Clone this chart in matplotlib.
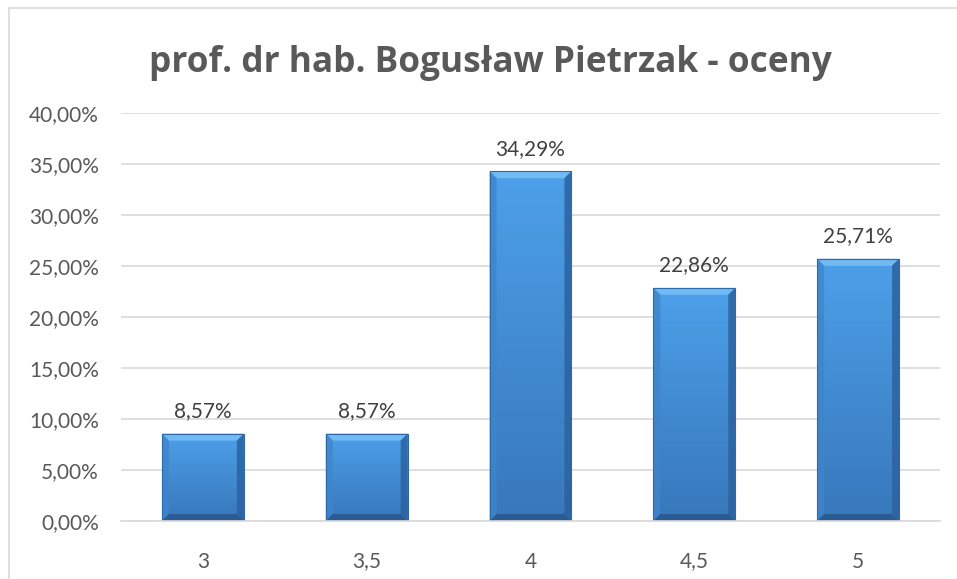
import matplotlib
matplotlib.use("Agg")
import matplotlib.pyplot as plt
import numpy as np
from matplotlib.patches import Polygon, Rectangle
from matplotlib.colors import LinearSegmentedColormap

# ---- data ----
categories = ["3", "3,5", "4", "4,5", "5"]
values = [8.57, 8.57, 34.29, 22.86, 25.71]
value_labels = ["8,57%", "8,57%", "34,29%", "22,86%", "25,71%"]
yticks = [0, 5, 10, 15, 20, 25, 30, 35, 40]
ytick_labels = ["0,00%", "5,00%", "10,00%", "15,00%", "20,00%", "25,00%",
                "30,00%", "35,00%", "40,00%"]
title = "prof. dr hab. Bogusław Pietrzak - oceny"

W, H = 957, 579
fig = plt.figure(figsize=(W / 100, H / 100), dpi=100)
fig.patch.set_facecolor("white")

# chart border (right/bottom edges fall outside the image, as in the reference)
fig.add_artist(Rectangle((9 / W, -0.05), 1.2, 1 - 8 / H + 0.05, transform=fig.transFigure,
                         fill=False, edgecolor="#D9D9D9", lw=1.2))

ax = fig.add_axes([121 / W, 1 - 521 / H, (940 - 121) / W, (521 - 113) / H])
x = np.arange(len(categories))
bars = ax.bar(x, values, width=0.5, color="#4590D8", zorder=2)
ax.set_xlim(-0.5, len(categories) - 0.5)
ax.set_ylim(0, 40)
ax.set_yticks(yticks)
ax.set_yticklabels(ytick_labels)
ax.set_xticks(x)
ax.set_xticklabels(categories)

grey = "#595959"
for lab in ax.get_yticklabels() + ax.get_xticklabels():
    lab.set_fontfamily("Lato")
    lab.set_fontsize(15)
    lab.set_color(grey)
ax.tick_params(axis="both", length=0)
ax.tick_params(axis="y", pad=16)
ax.tick_params(axis="x", pad=22)
ax.grid(axis="y", color="#D9D9D9", lw=1.2, zorder=0)
ax.set_axisbelow(True)
for s in ["top", "right", "left"]:
    ax.spines[s].set_visible(False)
ax.spines["bottom"].set_color("#D9D9D9")
ax.spines["bottom"].set_linewidth(1.2)

# gradient + bevel on bars
cmap = LinearSegmentedColormap.from_list("g", ["#3877BB", "#4CA0E9"])
grad = np.linspace(0, 1, 256).reshape(-1, 1)
fig.canvas.draw()
axw_px = ax.get_window_extent().width
axh_px = ax.get_window_extent().height
px_x = (ax.get_xlim()[1] - ax.get_xlim()[0]) / axw_px
px_y = (ax.get_ylim()[1] - ax.get_ylim()[0]) / axh_px
b = 7
for rect in bars:
    x0, y0 = rect.get_x(), rect.get_y()
    w, h = rect.get_width(), rect.get_height()
    x1, y1 = x0 + w, y0 + h
    bx, by = b * px_x, b * px_y
    # shadow
    ax.add_patch(Rectangle((x0 + 1 * px_x, y0 - 3 * px_y), w, h, color="#000000",
                           alpha=0.08, zorder=1.5, lw=0))
    im = ax.imshow(grad, extent=(x0, x1, y0, y1), origin="lower", cmap=cmap,
                   aspect="auto", zorder=2.1, interpolation="bilinear")
    im.set_clip_path(rect)
    # bevels
    ax.add_patch(Polygon([(x0, y1), (x1, y1), (x1 - bx, y1 - by), (x0 + bx, y1 - by)],
                         closed=True, color="#72BAF3", lw=0, zorder=2.2))
    ax.add_patch(Polygon([(x0, y0), (x0 + bx, y0 + by), (x0 + bx, y1 - by), (x0, y1)],
                         closed=True, color="#3F85CB", lw=0, zorder=2.2, alpha=0.8))
    ax.add_patch(Polygon([(x1, y0), (x1 - bx, y0 + by), (x1 - bx, y1 - by), (x1, y1)],
                         closed=True, color="#2C62A0", lw=0, zorder=2.2, alpha=0.85))
    ax.add_patch(Polygon([(x0, y0), (x1, y0), (x1 - bx, y0 + by), (x0 + bx, y0 + by)],
                         closed=True, color="#2A5C93", lw=0, zorder=2.2))
    ax.add_patch(Rectangle((x0, y0), w, h, fill=False, edgecolor="#2F6AA8", lw=0.8, zorder=2.3))

for xi, v, lab in zip(x, values, value_labels):
    ax.annotate(lab, (xi, v), xytext=(0, 9), textcoords="offset points",
                ha="center", va="bottom", fontsize=15, color="#404040",
                fontfamily="Lato", zorder=3)

# title, fitted to reference width
t = fig.text(490 / W, 1 - 63 / H, title, ha="center", va="center",
             fontsize=24, fontweight="bold", color=grey, fontfamily="Open Sans")
fig.canvas.draw()
tw = t.get_window_extent().width
t.set_fontsize(24 * 685 / tw)

fig.savefig("out.png", dpi=100, facecolor="white")
